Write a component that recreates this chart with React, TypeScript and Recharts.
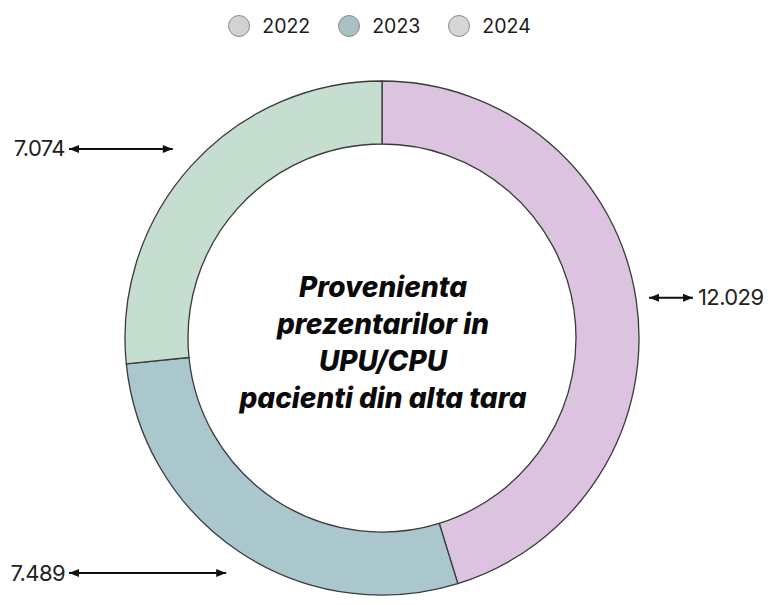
import { PieChart, Pie, Cell } from 'recharts';

const years = ['2022', '2023', '2024'];
const patients = [12029, 7489, 7074];

const sliceColors = ['#DCC3E0', '#A9C7CC', '#C6DECF'];
const legendColors = ['#D2D2D2', '#A9C0C5', '#D6D6D6'];

const titleLines = [
  'Provenienta',
  'prezentarilor in',
  'UPU/CPU',
  'pacienti din alta tara',
];

const data = years.map((year, i) => ({ name: year, value: patients[i] }));

const CX = 382;
const CY = 338;
const RAD = Math.PI / 180;

function fmt(n: number) {
  return String(n).replace(/\B(?=(\d{3})+(?!\d))/g, '.');
}

function Arrowhead({ x, y, dir }: { x: number; y: number; dir: number }) {
  // dir: -1 points left, 1 points right
  return (
    <polygon
      points={`${x},${y} ${x - dir * 10},${y - 4} ${x - dir * 10},${y + 4}`}
      fill='#111'
    />
  );
}

function renderLabel(props: any) {
  const { cx, cy, midAngle, outerRadius, value } = props;
  const right = Math.cos(-midAngle * RAD) > 0;
  const r = outerRadius + (right ? 13 : 25);
  const x = cx + r * Math.cos(-midAngle * RAD);
  const y = cy + r * Math.sin(-midAngle * RAD);

  if (right) {
    const x2 = x + 44;
    return (
      <g>
        <line x1={x} y1={y} x2={x2} y2={y} stroke='#111' strokeWidth={2} />
        <Arrowhead x={x} y={y} dir={-1} />
        <Arrowhead x={x2} y={y} dir={1} />
        <text
          x={x2 + 5}
          y={y}
          dy={7.5}
          fontSize={22}
          fontFamily='Inter'
          letterSpacing={-0.6}
          fill='#222'
          textAnchor='start'
        >
          {fmt(value)}
        </text>
      </g>
    );
  }

  const x2 = cx - 313;
  return (
    <g>
      <line x1={x2} y1={y} x2={x} y2={y} stroke='#111' strokeWidth={2} />
      <Arrowhead x={x2} y={y} dir={-1} />
      <Arrowhead x={x} y={y} dir={1} />
      <text
        x={x2 - 4}
        y={y}
        dy={7.5}
        fontSize={22}
        fontFamily='Inter'
        letterSpacing={-0.6}
        fill='#222'
        textAnchor='end'
      >
        {fmt(value)}
      </text>
    </g>
  );
}

function LegendBar() {
  return (
    <div
      style={{
        position: 'absolute',
        left: -10,
        top: 14,
        width: 779,
        display: 'flex',
        justifyContent: 'center',
        gap: 28,
        fontFamily: 'Inter',
        fontSize: 19.5,
        color: '#1a1a1a',
        lineHeight: '24px',
      }}
    >
      {years.map((year, i) => (
        <div key={year} style={{ display: 'flex', alignItems: 'center', gap: 12 }}>
          <span
            style={{
              width: 22,
              height: 22,
              borderRadius: '50%',
              background: legendColors[i],
              border: '1.5px solid #8a8a8a',
              boxSizing: 'border-box',
              display: 'inline-block',
            }}
          />
          <span>{year}</span>
        </div>
      ))}
    </div>
  );
}

function CenterTitle() {
  return (
    <svg
      width={779}
      height={605}
      style={{ position: 'absolute', left: 0, top: 0, pointerEvents: 'none' }}
    >
      <text
        textAnchor='middle'
        fontFamily='Inter'
        fontWeight={800}
        fontStyle='italic'
        fontSize={28}
        fill='#0a0a0a'
      >
        {titleLines.map((line, i) => (
          <tspan key={line} x={CX + 1} y={297 + i * 37}>
            {line}
          </tspan>
        ))}
      </text>
    </svg>
  );
}

export default function App() {
  return (
    <div style={{ position: 'absolute', left: 0, top: 0, width: 779, height: 605, background: '#fff' }}>
      <PieChart width={779} height={605} margin={{ top: 0, right: 0, bottom: 0, left: 0 }}>
        <Pie
          data={data}
          dataKey='value'
          nameKey='name'
          cx={CX}
          cy={CY}
          innerRadius={194}
          outerRadius={257}
          startAngle={90}
          endAngle={-270}
          stroke='#3a3a3a'
          strokeWidth={1.3}
          label={renderLabel}
          labelLine={false}
          isAnimationActive={false}
        >
          {data.map((d, i) => (
            <Cell key={d.name} fill={sliceColors[i]} />
          ))}
        </Pie>
      </PieChart>
      <LegendBar />
      <CenterTitle />
    </div>
  );
}
